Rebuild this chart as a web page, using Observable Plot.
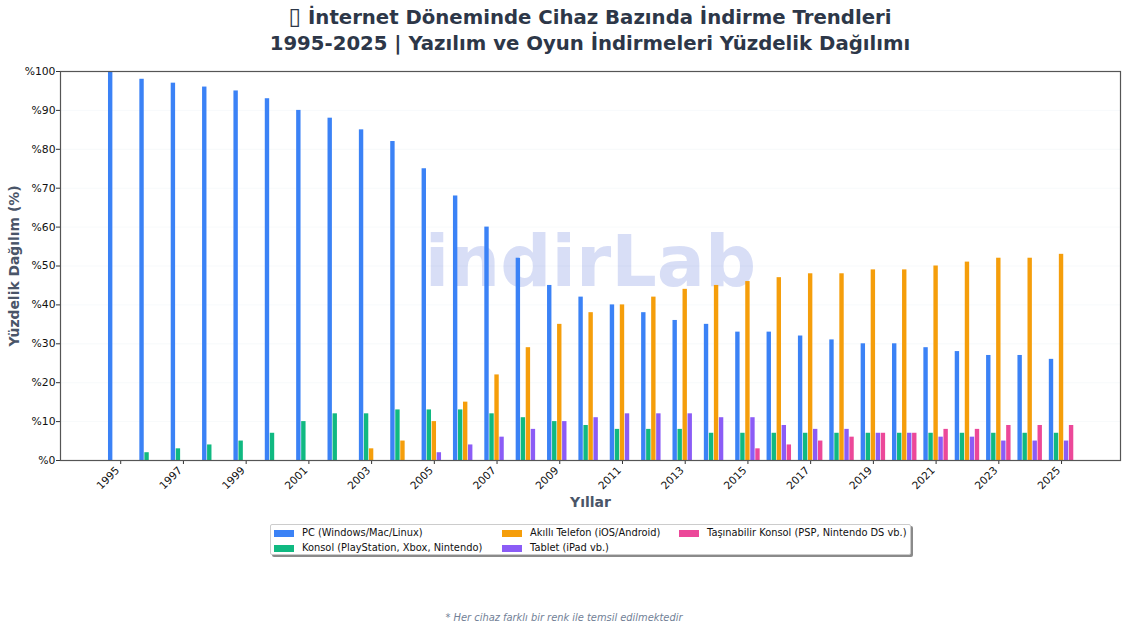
<!DOCTYPE html>
<html lang="tr">
<head>
<meta charset="utf-8">
<script src="https://cdn.jsdelivr.net/npm/d3@7"></script>
<script src="https://cdn.jsdelivr.net/npm/@observablehq/plot@0.6"></script>
<style>
html,body{margin:0;padding:0;background:#fff;font-family:"DejaVu Sans",sans-serif;width:1128px;height:630px;overflow:hidden}
#page{position:relative;width:1128px;height:630px}
#title{position:absolute;left:60px;width:1060px;top:5px;text-align:center;font-weight:700;font-size:19.7px;line-height:26px;color:#2d3748;white-space:nowrap}
#title .box{font-size:23px;font-weight:400;line-height:0}
#chart{position:absolute;left:0;top:0}
#chart svg{display:block;overflow:visible}
#legend{position:absolute;left:270px;top:524px;width:641px;height:31px;box-sizing:border-box;border:1px solid #ccc;border-radius:2px;background:#fff;box-shadow:2px 2px 0 #8a8a8a;font-size:9.85px;color:#111;white-space:nowrap}
.li{position:absolute;line-height:12px}
.sw{position:absolute;width:20px;height:7px;top:3px;left:-28px}
#note{position:absolute;left:0;width:1128px;top:612px;text-align:center;font-style:italic;font-size:9.87px;color:#718096;white-space:nowrap}
</style>
</head>
<body>
<div id="page">
<div id="chart"></div>
<div id="title"></div>
<div id="legend"></div>
<div id="note"></div>
</div>
<script>
const titleIcon = "\u25AF";
const titleLines = ["İnternet Döneminde Cihaz Bazında İndirme Trendleri", "1995-2025 | Yazılım ve Oyun İndirmeleri Yüzdelik Dağılımı"];
const noteText = "* Her cihaz farklı bir renk ile temsil edilmektedir";
const watermark = "indirLab";
const xLabel = "Yıllar";
const yLabel = "Yüzdelik Dağılım (%)";
const years = d3.range(1995, 2026);
const tickYears = d3.range(1995, 2026, 2);
const yTicks = d3.range(0, 101, 10);

const pc      = [100,98,97,96,95,93,90,88,85,82,75,68,60,52,45,42,40,38,36,35,33,33,32,31,30,30,29,28,27,27,26];
const konsol  = [0,2,3,4,5,7,10,12,12,13,13,13,12,11,10,9,8,8,8,7,7,7,7,7,7,7,7,7,7,7,7];
const telefon = [0,0,0,0,0,0,0,0,3,5,10,15,22,29,35,38,40,42,44,45,46,47,48,48,49,49,50,51,52,52,53];
const tablet  = [0,0,0,0,0,0,0,0,0,0,2,4,6,8,10,11,12,12,12,11,11,9,8,8,7,7,6,6,5,5,5];
const tasinabilir = [0,0,0,0,0,0,0,0,0,0,0,0,0,0,0,0,0,0,0,0,3,4,5,6,7,7,8,8,9,9,9];

const seriesNames = ["PC (Windows/Mac/Linux)","Konsol (PlayStation, Xbox, Nintendo)","Akıllı Telefon (iOS/Android)","Tablet (iPad vb.)","Taşınabilir Konsol (PSP, Nintendo DS vb.)"];
const seriesColors = ["#3b82f6","#10b981","#f59e0b","#8b5cf6","#ec4899"];
const seriesValues = [pc, konsol, telefon, tablet, tasinabilir];

const barStep = 0.16, barWidth = 0.14;
const rows = seriesValues.flatMap((vals, s) => vals.map((v, i) => ({year: years[i], value: v, s})).filter(d => d.value > 0));

const chart = Plot.plot({
  width: 1128, height: 630,
  marginLeft: 60, marginRight: 8, marginTop: 71, marginBottom: 170,
  style: {fontFamily: '"DejaVu Sans",sans-serif', fontSize: "10px", color: "#111", background: "transparent"},
  x: {domain: [1993.08, 2026.88], label: null},
  y: {domain: [0, 100], label: null},
  marks: [
    Plot.ruleY(yTicks.slice(1, -1), {stroke: "#e2e8f0", strokeOpacity: 0.35, strokeWidth: 0.8}),
    Plot.text([watermark], {frameAnchor: "middle", dy: -3, fontSize: 71.5, fontWeight: 700, fill: "#3c5ad2", fillOpacity: 0.2, fontFamily: '"DejaVu Sans",sans-serif'}),
    Plot.rectY(rows, {
      x1: d => d.year + (d.s - 2) * barStep - barWidth / 2,
      x2: d => d.year + (d.s - 2) * barStep + barWidth / 2,
      y1: 0, y2: "value",
      fill: d => seriesColors[d.s]
    }),
    Plot.axisX({ticks: tickYears, tickFormat: () => "", tickSize: 4, label: null, stroke: "#333"}),
    Plot.axisX({ticks: tickYears, tickFormat: d => String(d), tickRotate: -45, tickSize: 0, tickPadding: 6, fontSize: 10.6, label: null, textAnchor: "end", dx: -3, dy: 2}),
    Plot.axisY({ticks: yTicks, tickFormat: d => "%" + d, tickSize: 4, tickPadding: 1, fontSize: 10.8, label: null, stroke: "#333"}),
    Plot.frame({stroke: "#555", strokeWidth: 1.2}),
    Plot.text([xLabel], {frameAnchor: "bottom", dy: 46, fontSize: 14, fontWeight: 700, fill: "#4a5568"}),
    Plot.text([yLabel], {frameAnchor: "left", dx: -46, rotate: -90, textAnchor: "middle", fontSize: 13.9, fontWeight: 700, fill: "#4a5568"})
  ]
});
document.getElementById("chart").appendChild(chart);

const titleEl = document.getElementById("title");
const iconEl = document.createElement("span");
iconEl.className = "box";
iconEl.textContent = titleIcon;
titleEl.append(iconEl, " " + titleLines[0], document.createElement("br"), titleLines[1]);
document.getElementById("note").textContent = noteText;

const legendPos = [[31,2],[31,17],[259,2],[259,17],[436,2]];
const legend = document.getElementById("legend");
seriesNames.forEach((n, i) => {
  const el = document.createElement("div");
  el.className = "li";
  el.style.left = legendPos[i][0] + "px";
  el.style.top = legendPos[i][1] + "px";
  el.innerHTML = `<span class="sw" style="background:${seriesColors[i]}"></span>${n}`;
  legend.appendChild(el);
});
</script>
</body>
</html>
